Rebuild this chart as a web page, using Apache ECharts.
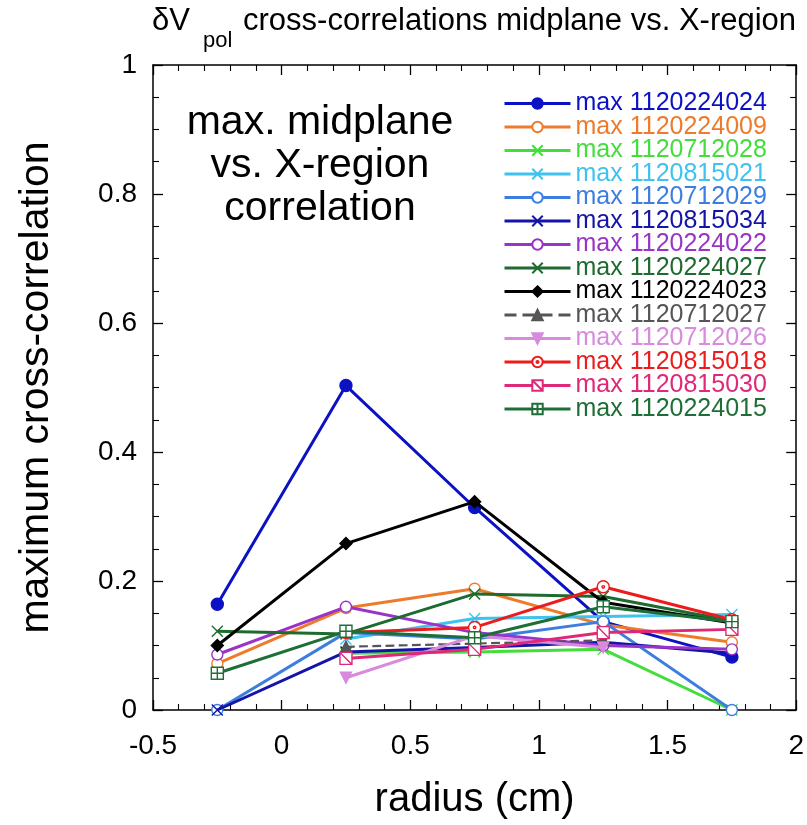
<!DOCTYPE html>
<html>
<head>
<meta charset="utf-8">
<script src="https://cdn.jsdelivr.net/npm/echarts@6/dist/echarts.min.js"></script>
<style>
html,body{margin:0;padding:0;background:#fff;}
#chart{width:807px;height:825px;}
</style>
</head>
<body>
<div id="chart"></div>
<script>
// ---- data ----
var radius = [-0.25, 0.25, 0.75, 1.25, 1.75];
var xTicks = ['-0.5', '0', '0.5', '1', '1.5', '2'];
var yTicks = ['0', '0.2', '0.4', '0.6', '0.8', '1'];

var seriesNames = [
  'max 1120224024', 'max 1120224009', 'max 1120712028', 'max 1120815021',
  'max 1120712029', 'max 1120815034', 'max 1120224022', 'max 1120224027',
  'max 1120224023', 'max 1120712027', 'max 1120712026', 'max 1120815018',
  'max 1120815030', 'max 1120224015'
];
var v1120224024 = [0.164, 0.503, 0.314, 0.137, 0.082];
var v1120224009 = [0.072, 0.158, 0.188, 0.132, 0.105];
var v1120712028 = [null, 0.088, 0.090, 0.094, 0.000];
var v1120815021 = [null, 0.110, 0.142, 0.145, 0.148];
var v1120712029 = [0.000, 0.120, 0.110, 0.137, 0.000];
var v1120815034 = [0.000, 0.090, 0.097, 0.105, 0.088];
var v1120224022 = [0.086, 0.160, 0.120, 0.100, 0.094];
var v1120224027 = [0.122, 0.118, 0.180, 0.176, 0.138];
var v1120224023 = [0.100, 0.258, 0.323, 0.167, 0.135];
var v1120712027 = [null, 0.098, 0.103, 0.108, null];
var v1120712026 = [null, 0.050, 0.115, 0.097, null];
var v1120815018 = [null, 0.120, 0.128, 0.191, 0.140];
var v1120815030 = [null, 0.080, 0.094, 0.120, 0.125];
var v1120224015 = [0.057, 0.122, 0.112, 0.160, 0.137];

var values = [v1120224024, v1120224009, v1120712028, v1120815021, v1120712029,
  v1120815034, v1120224022, v1120224027, v1120224023, v1120712027, v1120712026,
  v1120815018, v1120815030, v1120224015];

// ---- styles ----
var colors = ['#0c12c4', '#ee7a2c', '#44dd3c', '#3ec2ee', '#3c7ee0', '#1414a8',
  '#9a34c6', '#1d6b2e', '#000000', '#555555', '#d78ade', '#ec1c1c', '#e02878', '#1e6e38'];
var P_X = 'path://M0,0L10,10M10,0L0,10';
var P_OC = 'path://M0,5A5,5,0,1,1,10,5A5,5,0,1,1,0,5Z';
var P_TDOWN = 'path://M0,0L10,0L5,9Z';
var P_CDOT = 'path://M0,5A5,5,0,1,1,10,5A5,5,0,1,1,0,5ZM4,5A1,1,0,1,1,6,5A1,1,0,1,1,4,5Z';
var P_SQS = 'path://M0,0L10,0L10,10L0,10ZM0,0L10,10';
var P_SQG = 'path://M0,0L10,0L10,10L0,10ZM5,0L5,10M0,5L10,5';
// [symbol, size, filled]
var marks = [
  ['circle', 12, true], [P_OC, 11, false], [P_X, 11, false], [P_X, 11, false],
  [P_OC, 11, false], [P_X, 11, false], [P_OC, 11, false], [P_X, 11, false],
  ['diamond', 12, true], ['triangle', 11, true], [P_TDOWN, 11, true], [P_CDOT, 12, false],
  [P_SQS, 12, false], [P_SQG, 12, false]
];

var FONT = 'Liberation Sans, Arial, Helvetica, sans-serif';

var series = seriesNames.map(function (name, i) {
  var pts = [];
  for (var k = 0; k < radius.length; k++) {
    if (values[i][k] !== null) pts.push([radius[k], values[i][k]]);
  }
  var m = marks[i];
  var c = colors[i];
  return {
    name: name,
    type: 'line',
    data: pts,
    symbol: m[0],
    symbolSize: m[1],
    showAllSymbol: true,
    animation: false,
    lineStyle: { color: c, width: i === 9 ? 2.2 : 3, type: i === 9 ? 'dashed' : 'solid' },
    itemStyle: { color: m[2] ? c : '#ffffff', borderColor: c, borderWidth: 1.4 },
    emphasis: { disabled: true },
    z: 2 + i
  };
});

var legendData = seriesNames.map(function (n, i) {
  return { name: n, textStyle: { color: colors[i] } };
});

var chart = echarts.init(document.getElementById('chart'), null, { renderer: 'canvas' });
var axisCommon = {
  type: 'value',
  axisLine: { show: true, onZero: false, lineStyle: { color: '#000', width: 1.5 } },
  axisTick: { show: true, inside: true, length: 10, lineStyle: { color: '#000', width: 1.3 } },
  minorTick: { show: true, length: 6, lineStyle: { color: '#000', width: 1.1 } },
  splitLine: { show: false }
};
chart.setOption({
  backgroundColor: '#fff',
  animation: false,
  textStyle: { fontFamily: FONT },
  grid: { left: 153, right: 10, top: 65, bottom: 112, show: false },
  xAxis: [
    Object.assign({}, axisCommon, {
      position: 'bottom', min: -0.5, max: 2, interval: 0.5,
      minorTick: Object.assign({}, axisCommon.minorTick, { splitNumber: 5 }),
      axisLabel: { show: true, fontSize: 28, color: '#000', margin: 22, fontFamily: FONT,
        formatter: function (v) { var i = Math.round((v + 0.5) / 0.5); return xTicks[i]; } },
      name: 'radius (cm)', nameLocation: 'middle', nameGap: 70,
      nameTextStyle: { fontSize: 40, color: '#000', fontFamily: FONT }
    }),
    Object.assign({}, axisCommon, {
      position: 'top', min: -0.5, max: 2, interval: 0.5,
      minorTick: Object.assign({}, axisCommon.minorTick, { splitNumber: 5 }),
      axisLabel: { show: false }
    })
  ],
  yAxis: [
    Object.assign({}, axisCommon, {
      position: 'left', min: 0, max: 1, interval: 0.2,
      minorTick: Object.assign({}, axisCommon.minorTick, { splitNumber: 4 }),
      axisLabel: { show: true, fontSize: 28, color: '#000', margin: 16, fontFamily: FONT,
        formatter: function (v) { return yTicks[Math.round(v / 0.2)]; } },
      name: 'maximum cross-correlation', nameLocation: 'middle', nameGap: 96,
      nameTextStyle: { fontSize: 41, color: '#000', fontFamily: FONT }
    }),
    Object.assign({}, axisCommon, {
      position: 'right', min: 0, max: 1, interval: 0.2,
      minorTick: Object.assign({}, axisCommon.minorTick, { splitNumber: 4 }),
      axisLabel: { show: false }
    })
  ],
  legend: {
    orient: 'vertical', left: 503, top: 91,
    itemWidth: 66, itemHeight: 13, itemGap: -1.5,
    padding: 0,
    lineStyle: { width: 3 },
    textStyle: { fontSize: 25, lineHeight: 20, fontFamily: FONT },
    data: legendData,
    selectedMode: false
  },
  graphic: [
    { type: 'text', left: 152, top: 6, style: { text: 'δV', font: '31px ' + FONT, fill: '#000' } },
    { type: 'text', left: 203, top: 30, style: { text: 'pol', font: '22px ' + FONT, fill: '#000' } },
    { type: 'text', left: 243, top: 6, style: { text: 'cross-correlations midplane vs. X-region', font: '31px ' + FONT, fill: '#000' } },
    { type: 'text', x: 320, y: 166, style: { text: 'max. midplane\nvs. X-region\ncorrelation', font: '41px ' + FONT,
      lineHeight: 43, fill: '#000', align: 'center', verticalAlign: 'middle' } }
  ],
  series: series
});
</script>
</body>
</html>
